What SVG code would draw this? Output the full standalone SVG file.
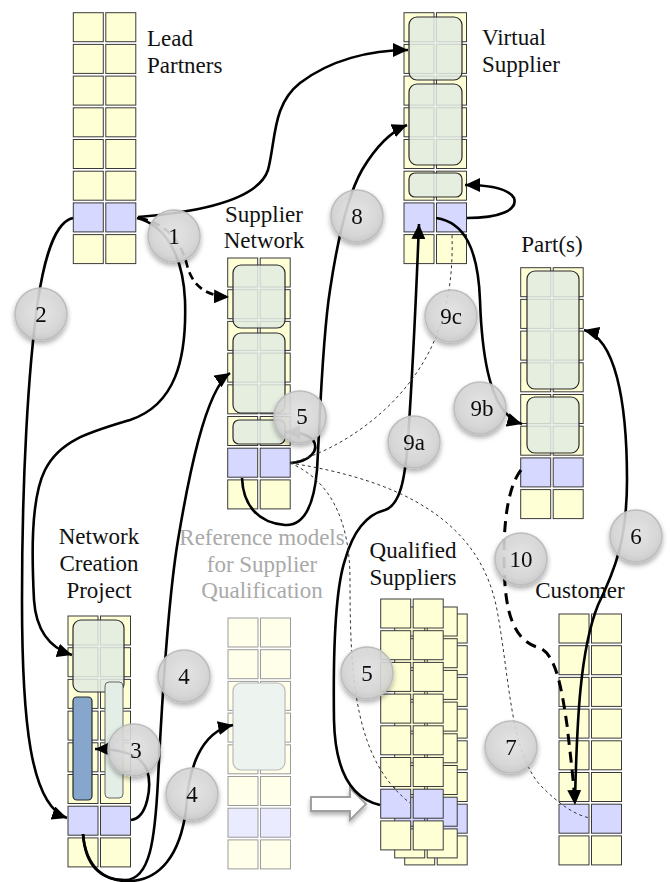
<svg xmlns="http://www.w3.org/2000/svg" xmlns:xlink="http://www.w3.org/1999/xlink" width="670" height="882" viewBox="0 0 670 882">
<style>
.y{fill:#FFFFD6;stroke:#3a3a3a;stroke-width:1}
.b{fill:#D6D8FF;stroke:#3a3a3a;stroke-width:1}
.g{fill:#E2EBE2;fill-opacity:.86;stroke:#2a2a2a;stroke-width:1.2}
.lbl{font-family:"Liberation Serif","Times New Roman",serif;font-size:23px;fill:#111}
.ref{fill:#A9A9A9}
.con{fill:none;stroke:#000;stroke-width:2.6}
.dash{stroke-dasharray:8 5}
.dash2{stroke-dasharray:11 7;stroke-width:3}
.thin{fill:none;stroke:#333;stroke-width:1;stroke-dasharray:3 3}
.circ{fill:url(#cg);fill-opacity:.88;stroke:#BDBDBD;stroke-width:1.5}
.num{font-family:"Liberation Serif","Times New Roman",serif;font-size:23px;fill:#111;text-anchor:middle}
</style>
<defs>
<radialGradient id="cg" cx="50%" cy="45%" r="55%">
<stop offset="0" stop-color="#E6E6E6"/>
<stop offset="0.75" stop-color="#D7D7D7"/>
<stop offset="1" stop-color="#C9C9C9"/>
</radialGradient>
<filter id="sh" x="-40%" y="-40%" width="180%" height="190%">
<feDropShadow dx="0" dy="3" stdDeviation="2.5" flood-color="#000" flood-opacity="0.35"/>
</filter>
<marker id="ah" markerUnits="userSpaceOnUse" markerWidth="16" markerHeight="14" viewBox="0 0 16 14" refX="15" refY="7" orient="auto">
<path d="M0,0 L15,7 L0,14 z" fill="#000"/>
</marker>
<marker id="ahg" markerUnits="userSpaceOnUse" markerWidth="16" markerHeight="14" viewBox="0 0 16 14" refX="15" refY="7" orient="auto">
<path d="M0,0 L15,7 L0,14 z" fill="#555"/>
</marker>
<g id="col8">
<rect class="y" x="0" y="0" width="30" height="29"/><rect class="y" x="32.5" y="0" width="30" height="29"/>
<rect class="y" x="0" y="31.7" width="30" height="29"/><rect class="y" x="32.5" y="31.7" width="30" height="29"/>
<rect class="y" x="0" y="63.4" width="30" height="29"/><rect class="y" x="32.5" y="63.4" width="30" height="29"/>
<rect class="y" x="0" y="95.1" width="30" height="29"/><rect class="y" x="32.5" y="95.1" width="30" height="29"/>
<rect class="y" x="0" y="126.8" width="30" height="29"/><rect class="y" x="32.5" y="126.8" width="30" height="29"/>
<rect class="y" x="0" y="158.5" width="30" height="29"/><rect class="y" x="32.5" y="158.5" width="30" height="29"/>
<rect class="b" x="0" y="190.2" width="30" height="29"/><rect class="b" x="32.5" y="190.2" width="30" height="29"/>
<rect class="y" x="0" y="221.9" width="30" height="29"/><rect class="y" x="32.5" y="221.9" width="30" height="29"/>
</g>
<filter id="sh2" x="-20%" y="-40%" width="140%" height="200%">
<feDropShadow dx="0" dy="3" stdDeviation="2" flood-color="#000" flood-opacity="0.3"/>
</filter>
</defs>

<rect width="670" height="882" fill="#fff"/>

<g id="lead-partners">
<use xlink:href="#col8" x="73.3" y="12.7"/>
<text class="lbl" x="147" y="46">Lead</text>
<text class="lbl" x="147" y="73">Partners</text>
</g>

<g id="virtual-supplier">
<use xlink:href="#col8" x="404" y="12.7"/>
<rect class="g" x="409" y="17" width="53" height="63" rx="8"/>
<rect class="g" x="409" y="84" width="53" height="81" rx="8"/>
<rect class="g" x="409" y="173" width="53" height="24" rx="6"/>
<text class="lbl" x="482" y="45">Virtual</text>
<text class="lbl" x="482" y="72">Supplier</text>
</g>

<g id="supplier-network">
<use xlink:href="#col8" x="227.7" y="258"/>
<rect class="g" x="233" y="265" width="52" height="63" rx="8"/>
<rect class="g" x="233" y="333" width="52" height="80" rx="8"/>
<rect class="g" x="233" y="420" width="52" height="24" rx="6"/>
<text class="lbl" x="264" y="222" text-anchor="middle">Supplier</text>
<text class="lbl" x="264" y="248" text-anchor="middle">Network</text>
</g>

<g id="parts">
<use xlink:href="#col8" x="520.7" y="267.7"/>
<rect class="g" x="527" y="271" width="52" height="118" rx="8"/>
<rect class="g" x="527" y="397" width="52" height="56" rx="8"/>
<text class="lbl" x="552" y="252" text-anchor="middle">Part(s)</text>
</g>

<g id="network-creation-project">
<use xlink:href="#col8" x="68" y="616"/>
<rect class="g" x="73" y="620" width="51" height="72" rx="8"/>
<rect x="105" y="682" width="18" height="116" rx="4" fill="#E3EEE6" stroke="#666" stroke-width="1"/>
<rect x="73" y="697" width="19" height="103" rx="4" fill="#86A6CC" stroke="#2a2a2a" stroke-width="1.2"/>
<text class="lbl" x="99" y="544" text-anchor="middle">Network</text>
<text class="lbl" x="99" y="571" text-anchor="middle">Creation</text>
<text class="lbl" x="99" y="598" text-anchor="middle">Project</text>
</g>

<g id="reference-models">
<g opacity="0.5">
<use xlink:href="#col8" x="228" y="618"/>
<rect x="233" y="683" width="52" height="87" rx="8" fill="#DCE9DE" stroke="#777" stroke-width="1.2"/>
</g>
<text class="lbl ref" x="262" y="545" text-anchor="middle">Reference models</text>
<text class="lbl ref" x="262" y="572" text-anchor="middle">for Supplier</text>
<text class="lbl ref" x="262" y="598" text-anchor="middle">Qualification</text>
</g>

<g id="qualified-suppliers">
<use xlink:href="#col8" x="404.7" y="614"/>
<use xlink:href="#col8" x="394.7" y="607"/>
<use xlink:href="#col8" x="380.7" y="599"/>
<text class="lbl" x="413" y="558" text-anchor="middle">Qualified</text>
<text class="lbl" x="413" y="585" text-anchor="middle">Suppliers</text>
</g>

<g id="customer">
<use xlink:href="#col8" x="559" y="614"/>
<text class="lbl" x="580" y="598" text-anchor="middle">Customer</text>
</g>

<g id="transfer-arrow">
<polygon points="311,797 350,797 350,788 366,804 350,820 350,811 311,811" fill="#fff" stroke="#A0A0A0" stroke-width="2" filter="url(#sh2)"/>
</g>

<g id="connectors">
<path class="con" d="M138,217 C200,212 258,200 268,170 C276,140 272,105 300,83 C330,60 370,50 408,50" marker-end="url(#ah)"/>
<path class="con dash" d="M140,218 C170,225 182,245 187,265 C192,285 205,296 229,297" marker-end="url(#ah)"/>
<path class="con" d="M137,218 C165,225 183,255 185,300 C187,360 175,405 130,420 C90,432 60,440 45,470 C30,500 32,560 34,600 C36,630 50,648 72,655" marker-end="url(#ah)"/>
<path class="con" d="M73,218 C55,222 45,255 38,300 C28,370 22,480 22,600 C22,720 30,805 67,818" marker-end="url(#ah)"/>
<path class="con" d="M83,834 C85,865 100,880 125,880 C150,880 155,840 158,780 C162,700 168,600 178,540 C188,480 205,390 230,373" marker-end="url(#ah)"/>
<path class="con" d="M83,834 C86,868 105,882 130,881 C160,880 180,855 186,810 C188,770 200,732 233,725" marker-end="url(#ah)"/>
<path class="con" d="M131,820 C148,818 152,785 147,770 C140,752 115,749 95,749" marker-end="url(#ah)"/>
<path class="con" d="M242,478 C243,505 258,523 285,525 C305,526 314,505 317,470 C320,420 322,340 330,290 C336,250 345,200 362,170 C375,148 390,132 407,125" marker-end="url(#ah)"/>
<path class="con" d="M290,463 C310,462 320,450 313,440 C306,433 296,432 285,432" marker-end="url(#ahg)"/>
<path class="con" d="M467,218 C500,218 518,210 514,198 C508,188 490,185 465,185" marker-end="url(#ah)"/>
<path class="con" d="M380,805 C350,798 335,770 334,720 C333,650 335,590 345,560 C352,535 365,515 385,510 C400,505 405,480 408,440 C412,380 416,300 419,224" marker-end="url(#ah)"/>
<path class="con" d="M436,218 C465,222 478,250 480,300 C482,360 490,395 505,412 C510,418 515,422 522,424" marker-end="url(#ah)"/>
<path class="con" d="M575,800 C577,720 580,650 598,605 C615,570 627,540 627,480 C627,400 615,338 584,330" marker-end="url(#ah)"/>
<path class="con dash2" d="M521,470 C505,490 502,540 505,585 C508,625 520,643 540,648 C556,655 562,690 567,725 C571,760 574,785 575,805" marker-end="url(#ah)"/>
<path class="thin" d="M290,463 C340,450 400,410 430,350 C450,310 453,270 452,233"/>
<path class="thin" d="M290,463 C330,480 350,520 350,580 C350,680 355,760 410,803"/>
<path class="thin" d="M290,463 C400,480 480,520 497,610 C510,680 510,750 540,785 C560,805 575,815 590,818"/>
</g>

<g id="step-markers" filter="url(#sh)">
<g id="step-1"><circle class="circ" cx="174" cy="236" r="26"/><text class="num" x="174" y="244">1</text></g>
<g id="step-2"><circle class="circ" cx="41" cy="314" r="26"/><text class="num" x="41" y="322">2</text></g>
<g id="step-8"><circle class="circ" cx="357" cy="216" r="26"/><text class="num" x="357" y="224">8</text></g>
<g id="step-5a"><circle class="circ" cx="300" cy="417" r="26"/><text class="num" x="302" y="424">5</text></g>
<g id="step-9c"><circle class="circ" cx="451" cy="316" r="26"/><text class="num" x="451" y="324">9c</text></g>
<g id="step-9b"><circle class="circ" cx="480" cy="408" r="26"/><text class="num" x="482" y="416">9b</text></g>
<g id="step-9a"><circle class="circ" cx="414" cy="442" r="26"/><text class="num" x="414" y="450">9a</text></g>
<g id="step-6"><circle class="circ" cx="636" cy="536" r="26"/><text class="num" x="636" y="544">6</text></g>
<g id="step-10"><circle class="circ" cx="521" cy="559" r="26"/><text class="num" x="521" y="567">10</text></g>
<g id="step-7"><circle class="circ" cx="511" cy="747" r="26"/><text class="num" x="511" y="755">7</text></g>
<g id="step-4a"><circle class="circ" cx="184" cy="676" r="26"/><text class="num" x="184" y="684">4</text></g>
<g id="step-3"><circle class="circ" cx="134" cy="750" r="26"/><text class="num" x="136" y="758">3</text></g>
<g id="step-4b"><circle class="circ" cx="192" cy="794" r="26"/><text class="num" x="192" y="802">4</text></g>
<g id="step-5b"><circle class="circ" cx="367" cy="673" r="26"/><text class="num" x="367" y="681">5</text></g>
</g>
</svg>
